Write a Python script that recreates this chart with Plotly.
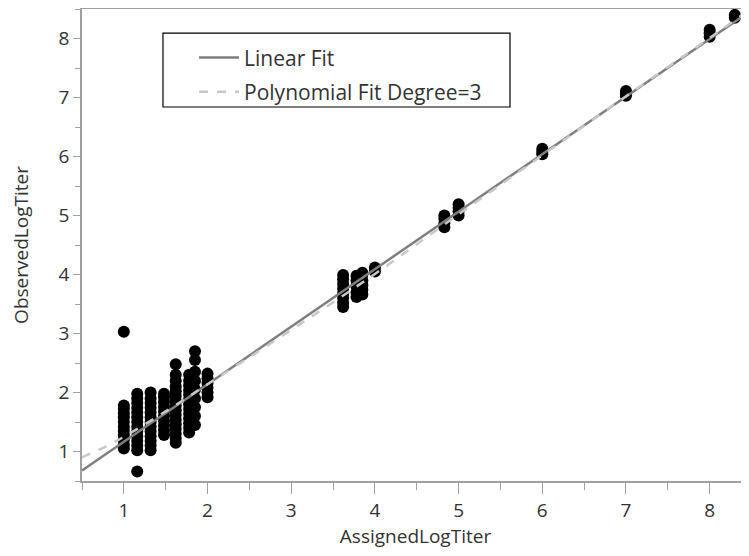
import plotly.graph_objects as go

# ---- data ----
x_a = [1.0] * 12
y_a = [1.05, 1.12, 1.2, 1.28, 1.35, 1.42, 1.5, 1.58, 1.65, 1.72, 1.78, 3.03]
x_b = [1.16] * 14
y_b = [0.66, 1.02, 1.1, 1.18, 1.26, 1.34, 1.42, 1.5, 1.58, 1.66, 1.74, 1.82, 1.9, 1.98]
x_c = [1.32] * 13
y_c = [1.02, 1.1, 1.18, 1.26, 1.34, 1.42, 1.5, 1.58, 1.66, 1.74, 1.82, 1.9, 2.0]
x_d = [1.48] * 10
y_d = [1.28, 1.36, 1.44, 1.52, 1.6, 1.68, 1.76, 1.84, 1.92, 1.98]
x_e = [1.62] * 16
y_e = [1.15, 1.22, 1.3, 1.38, 1.46, 1.54, 1.62, 1.7, 1.78, 1.86, 1.94, 2.02, 2.1, 2.2, 2.3, 2.48]
x_f = [1.78] * 13
y_f = [1.32, 1.4, 1.48, 1.56, 1.64, 1.72, 1.8, 1.88, 1.96, 2.04, 2.12, 2.2, 2.3]
x_g = [1.85] * 9
y_g = [1.45, 1.6, 1.75, 1.9, 2.05, 2.2, 2.35, 2.55, 2.7]
x_h = [2.0] * 6
y_h = [1.92, 2.0, 2.08, 2.16, 2.24, 2.32]
x_i = [3.62] * 8
y_i = [3.45, 3.52, 3.6, 3.68, 3.76, 3.84, 3.92, 3.99]
x_j = [3.78] * 5
y_j = [3.62, 3.7, 3.8, 3.9, 3.98]
x_k = [3.85] * 6
y_k = [3.66, 3.74, 3.82, 3.9, 4.0, 4.03]
x_l = [4.0] * 2
y_l = [4.05, 4.12]
x_m = [4.83] * 4
y_m = [4.8, 4.87, 4.94, 5.0]
x_n = [5.0] * 4
y_n = [5.0, 5.07, 5.13, 5.19]
x_o = [6.0] * 3
y_o = [6.04, 6.08, 6.13]
x_p = [7.0] * 3
y_p = [7.03, 7.07, 7.11]
x_q = [8.0] * 3
y_q = [8.03, 8.09, 8.15]
x_r = [8.3] * 2
y_r = [8.35, 8.4]

obs_x = x_a + x_b + x_c + x_d + x_e + x_f + x_g + x_h + x_i + x_j + x_k + x_l + x_m + x_n + x_o + x_p + x_q + x_r
obs_y = y_a + y_b + y_c + y_d + y_e + y_f + y_g + y_h + y_i + y_j + y_k + y_l + y_m + y_n + y_o + y_p + y_q + y_r

lin_x = [0.5, 8.47]
lin_y = [0.677, 8.45]

poly_x = [0.5, 0.9, 1.5, 2.0, 3.0, 4.0, 5.0, 6.0, 7.0, 8.0, 8.47]
poly_y = [0.90, 1.17, 1.68, 2.14, 3.06, 4.01, 5.02, 6.02, 7.02, 8.01, 8.48]

x_ticks = [1, 2, 3, 4, 5, 6, 7, 8]
y_ticks = [1, 2, 3, 4, 5, 6, 7, 8]

FONT = "Open Sans"
TXT = "#333333"
AX = "#a0a0a0"

fig = go.Figure()
fig.add_trace(go.Scatter(x=obs_x, y=obs_y, mode="markers",
                         marker=dict(color="black", size=12),
                         showlegend=False))
fig.add_trace(go.Scatter(x=lin_x, y=lin_y, mode="lines", name="Linear Fit",
                         legendgroup="a",
                         line=dict(color="#7f7f7f", width=2.5)))
fig.add_trace(go.Scatter(x=poly_x, y=poly_y, mode="lines", name="Polynomial Fit Degree=3",
                         legendgroup="b", line_shape="spline",
                         line=dict(color="#c8c8c8", width=2.5, dash="dash")))

axis_common = dict(showgrid=False, zeroline=False, showline=True, automargin=False,
                   linecolor=AX, linewidth=1.5,
                   ticks="outside", tickcolor=AX, tickwidth=1,
                   tickfont=dict(family=FONT, size=19, color=TXT))

fig.update_xaxes(range=[0.5, 8.47], tickvals=x_ticks, mirror=True, ticklen=11,
                 minor=dict(ticks="outside", ticklen=7, tick0=0.5, dtick=1,
                            tickcolor=AX, tickwidth=1),
                 title=dict(text="AssignedLogTiter", standoff=4,
                            font=dict(family=FONT, size=19, color=TXT)),
                 **axis_common)
fig.update_yaxes(range=[0.5, 8.5], tickvals=y_ticks, ticklen=7,
                 minor=dict(ticks="outside", ticklen=5, tick0=0.5, dtick=1,
                            tickcolor=AX, tickwidth=1),
                 title=dict(text="ObservedLogTiter", standoff=32,
                            font=dict(family=FONT, size=19, color=TXT)),
                 **axis_common)

fig.add_shape(type="rect", xref="paper", yref="paper",
              x0=0.1214, x1=0.6417, y0=0.7924, y1=0.949,
              line=dict(color="black", width=1.2), fillcolor="white", layer="below")

# page body has an 8px margin: figure is 741x548 so the plot area lands where the reference has it
fig.update_layout(
    width=741, height=548,
    margin=dict(l=74, r=0, t=1, b=75),
    plot_bgcolor="white", paper_bgcolor="white",
    legend=dict(x=0.168, y=0.94, xanchor="left", yanchor="top",
                bgcolor="rgba(0,0,0,0)", borderwidth=0,
                tracegroupgap=4, itemwidth=40,
                font=dict(family=FONT, size=21, color=TXT)),
)

fig.write_html("out.html")
